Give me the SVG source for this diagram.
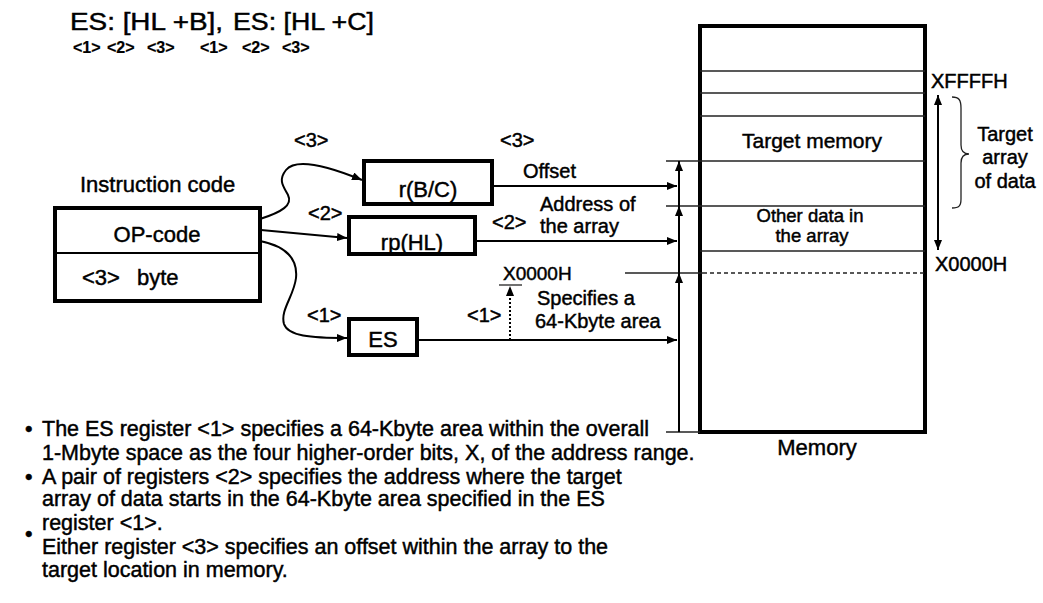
<svg xmlns="http://www.w3.org/2000/svg" width="1043" height="603" viewBox="0 0 1043 603">
<defs>
<marker id="ah" viewBox="0 0 10 8" refX="10" refY="4" markerWidth="10" markerHeight="8" orient="auto-start-reverse" markerUnits="userSpaceOnUse">
<path d="M0,0 L10,4 L0,8 z" fill="#000"/>
</marker>
<style>
text{font-family:"Liberation Sans",Arial,sans-serif;fill:#000;stroke:#000;stroke-width:0.45}
.t{font-size:20px}
.big{font-size:22px}
.sm{font-size:16px;font-weight:bold;stroke-width:0.2}
.bul{font-size:21.5px}
.box{fill:#fff;stroke:#000;stroke-width:4}
.thin{stroke:#222;stroke-width:1.3;fill:none}
.con{stroke:#000;stroke-width:2;fill:none}
.arr{stroke:#000;stroke-width:2;fill:none;marker-end:url(#ah)}
.mid{text-anchor:middle}
</style>
</defs>
<rect width="1043" height="603" fill="#fff"/>

<g id="title">
<text x="70" y="30" style="font-size:23px" textLength="153" lengthAdjust="spacingAndGlyphs">ES: [HL +B],</text>
<text x="233" y="30" style="font-size:23px" textLength="141" lengthAdjust="spacingAndGlyphs">ES: [HL +C]</text>
<text class="sm" x="73" y="53">&lt;1&gt;</text>
<text class="sm" x="107" y="53">&lt;2&gt;</text>
<text class="sm" x="147" y="53">&lt;3&gt;</text>
<text class="sm" x="200" y="53">&lt;1&gt;</text>
<text class="sm" x="242" y="53">&lt;2&gt;</text>
<text class="sm" x="282" y="53">&lt;3&gt;</text>
</g>

<g id="instruction">
<text class="big" x="80" y="192">Instruction code</text>
<rect class="box" x="55" y="208" width="205" height="93"/>
<line x1="55" y1="253" x2="260" y2="253" stroke="#000" stroke-width="2"/>
<text class="big mid" x="157" y="242">OP-code</text>
<text class="big" x="82" y="285">&lt;3&gt;</text>
<text class="big" x="137" y="285">byte</text>
</g>

<g id="rBC">
<rect class="box" x="364" y="161" width="128" height="43"/>
<text class="big mid" x="428" y="197">r(B/C)</text>
</g>
<g id="rpHL">
<rect class="box" x="349" y="217" width="126" height="37"/>
<text class="big mid" x="412" y="250">rp(HL)</text>
</g>
<g id="ES">
<rect class="box" x="349" y="319" width="68" height="36"/>
<text class="big mid" x="383" y="347">ES</text>
</g>

<g id="memory">
<rect x="700" y="26" width="225" height="406" fill="none" stroke="#000" stroke-width="4"/>
<line class="thin" x1="700" y1="71" x2="925" y2="71"/>
<line class="thin" x1="700" y1="93" x2="925" y2="93"/>
<line class="thin" x1="700" y1="116" x2="925" y2="116"/>
<line class="thin" x1="666" y1="161" x2="925" y2="161"/>
<line class="thin" x1="666" y1="206" x2="925" y2="206"/>
<line class="thin" x1="700" y1="251" x2="925" y2="251"/>
<line class="thin" x1="625" y1="273" x2="703" y2="273"/>
<line class="thin" x1="703" y1="273" x2="925" y2="273" stroke-dasharray="4,3"/>
<line class="thin" x1="666" y1="432" x2="700" y2="432"/>
<text class="big mid" x="812" y="148" style="font-size:21px">Target memory</text>
<text class="t mid" x="810" y="222" style="font-size:18.5px">Other data in</text>
<text class="t mid" x="812" y="242" style="font-size:18.5px">the array</text>
<text class="big mid" x="817" y="455">Memory</text>
<text class="t" x="931" y="88">XFFFFH</text>
<text class="t" x="935" y="271">X0000H</text>
<text class="t mid" x="1005" y="141">Target</text>
<text class="t mid" x="1005" y="164">array</text>
<text class="t mid" x="1005" y="188">of data</text>
</g>

<g id="connectors">
<path class="arr" d="M260,219 C282,212 293,205 288,195 C283,186 278,180 286,170 C294,160 318,162 362,180"/>
<line class="arr" x1="261" y1="230" x2="347" y2="238"/>
<path class="arr" d="M260,241 C285,246 298,258 296,278 C294,296 280,310 284,324 C288,336 310,338 347,338"/>
<line class="arr" x1="494" y1="186" x2="677" y2="186"/>
<line class="arr" x1="477" y1="241" x2="677" y2="241"/>
<line class="arr" x1="419" y1="340" x2="677" y2="340"/>
<line class="arr" x1="679" y1="206" x2="679" y2="161"/>
<line class="arr" x1="679" y1="273" x2="679" y2="206"/>
<line class="arr" x1="679" y1="432" x2="679" y2="273"/>
<line class="con" x1="510" y1="340" x2="510" y2="296" stroke-dasharray="2,2"/>
<path d="M506,296 L510,286 L514,296 z" fill="#000"/>
<line class="thin" x1="499" y1="285" x2="522" y2="285"/>
<line class="con" x1="938" y1="95" x2="938" y2="250" marker-start="url(#ah)" marker-end="url(#ah)"/>
<path class="thin" d="M952,97 C959,97 961,100 961,108 L961,145 C961,151 963,154 969,154 C963,154 961,157 961,163 L961,199 C961,206 959,208 952,208" stroke-width="1.5"/>
</g>

<g id="labels">
<text class="t" x="294" y="147">&lt;3&gt;</text>
<text class="t" x="308" y="220">&lt;2&gt;</text>
<text class="t" x="307" y="322">&lt;1&gt;</text>
<text class="t" x="500" y="147">&lt;3&gt;</text>
<text class="t" x="523" y="178">Offset</text>
<text class="t" x="540" y="211">Address of</text>
<text class="t" x="540" y="233">the array</text>
<text class="t" x="492" y="229">&lt;2&gt;</text>
<text class="t" x="503" y="280" style="font-size:19px">X0000H</text>
<text class="t" x="467" y="322">&lt;1&gt;</text>
<text class="t" x="537" y="305">Specifies a</text>
<text class="t" x="535" y="328">64-Kbyte area</text>
</g>

<g id="notes">
<text class="bul" x="25" y="436">•</text>
<text class="bul" x="42" y="436">The ES register &lt;1&gt; specifies a 64-Kbyte area within the overall</text>
<text class="bul" x="42" y="460">1-Mbyte space as the four higher-order bits, X, of the address range.</text>
<text class="bul" x="25" y="484">•</text>
<text class="bul" x="42" y="484">A pair of registers &lt;2&gt; specifies the address where the target</text>
<text class="bul" x="42" y="506">array of data starts in the 64-Kbyte area specified in the ES</text>
<text class="bul" x="42" y="530">register &lt;1&gt;.</text>
<text class="bul" x="25" y="541">•</text>
<text class="bul" x="42" y="554">Either register &lt;3&gt; specifies an offset within the array to the</text>
<text class="bul" x="42" y="577">target location in memory.</text>
</g>
</svg>
